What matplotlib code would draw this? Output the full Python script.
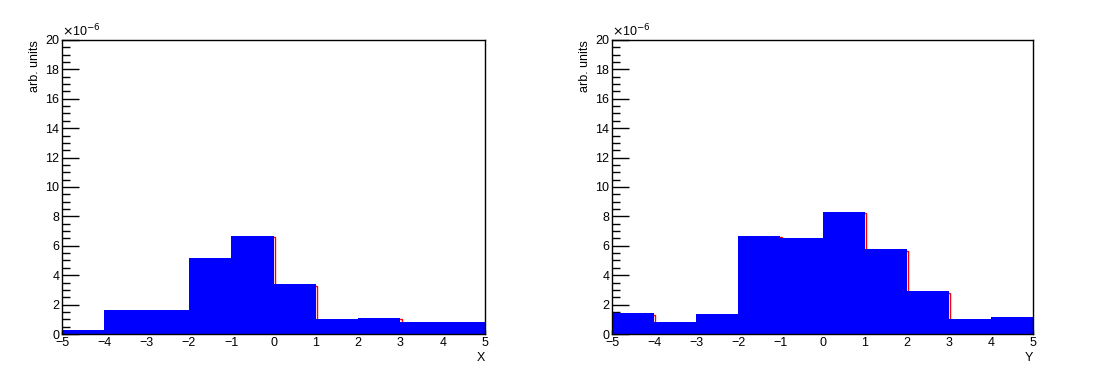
import numpy as np
import matplotlib
matplotlib.use("Agg")
import matplotlib.pyplot as plt
import matplotlib.transforms as mtransforms
from matplotlib.ticker import MultipleLocator

plt.rcParams['font.family'] = ['Liberation Sans', 'DejaVu Sans']

# bin edges and contents (units of 1e-6)
edges = [-5, -4, -3, -2, -1, 0, 1, 2, 3, 4, 5]
x_vals = [0.27, 1.63, 1.63, 5.17, 6.67, 3.40, 1.02, 1.09, 0.82, 0.82]
y_vals = [1.41, 0.82, 1.36, 6.67, 6.53, 8.30, 5.78, 2.92, 1.02, 1.16]
x_ticks = [-5, -4, -3, -2, -1, 0, 1, 2, 3, 4, 5]
y_ticks = [0, 2, 4, 6, 8, 10, 12, 14, 16, 18, 20]

fig = plt.figure(figsize=(10.98, 3.76), dpi=100)

panels = [
    ([0.0565, 0.1117, 0.3852, 0.782], x_vals, "X"),
    ([0.5574, 0.1117, 0.3834, 0.782], y_vals, "Y"),
]

for rect, vals, xlab in panels:
    ax = fig.add_axes(rect)
    # red outline, slightly shifted, peeks out from under the blue fill
    shifted = mtransforms.offset_copy(ax.transData, fig=fig, x=1.2, y=-1.5, units='dots')
    ax.stairs(vals, edges, color='red', linewidth=1.0, transform=shifted, zorder=1)
    ax.stairs(vals, edges, fill=True, color='#0000ff', zorder=2)

    ax.set_xlim(-5, 5)
    ax.set_ylim(0, 20)
    ax.set_xticks(x_ticks)
    ax.set_yticks(y_ticks)
    ax.xaxis.set_minor_locator(MultipleLocator(0.2))
    ax.yaxis.set_minor_locator(MultipleLocator(0.5))
    ax.set_axisbelow(True)
    ax.tick_params(axis='y', which='major', direction='in', length=12, width=1,
                   labelsize=9, pad=2)
    ax.tick_params(axis='y', which='minor', direction='in', length=6, width=1)
    ax.tick_params(axis='x', which='major', direction='in', length=3, width=1,
                   labelsize=9, pad=2)
    ax.tick_params(axis='x', which='minor', direction='in', length=1.5, width=1)
    for sp in ax.spines.values():
        sp.set_linewidth(1)

    ax.set_ylabel("arb. units", fontsize=9, loc='top', labelpad=3)
    ax.set_xlabel(xlab, fontsize=9, loc='right', labelpad=2)
    ax.text(0.0, 1.003, r"$\times$10$^{-6}$", transform=ax.transAxes,
            ha='left', va='bottom', fontsize=9)

fig.savefig("out.png", dpi=100)
